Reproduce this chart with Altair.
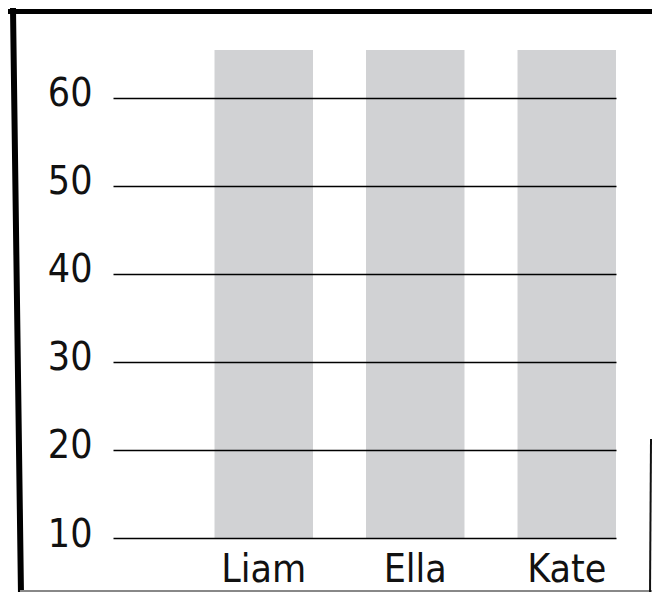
import altair as alt
import pandas as pd

# ---- data ----
names = ["Liam", "Ella", "Kate"]
values = [65.4, 65.4, 65.4]
y_ticks = [10, 20, 30, 40, 50, 60]
y_min = 10
y_max = 65.4

df = pd.DataFrame({"name": names, "value": values})

FONT = "'DejaVu Sans Condensed', 'Liberation Sans Narrow', sans-serif"
FS = 39

W, H = 503, 488

xscale = alt.Scale(domain=names, paddingInner=0.35, paddingOuter=0.335, align=1)
yscale = alt.Scale(domain=[y_min, y_max], nice=False, zero=False)

bars = alt.Chart(df).mark_bar(color="#d1d2d4").encode(
    x=alt.X("name:N", scale=xscale, sort=names,
            axis=alt.Axis(title=None, labelAngle=0, domain=False, ticks=False,
                          tickSize=0, labelPadding=12, labelFont=FONT,
                          labelFontSize=FS, labelColor="#111")),
    y=alt.Y("value:Q", scale=yscale,
            axis=alt.Axis(title=None, values=y_ticks, domain=False, ticks=False,
                          tickSize=0, labelPadding=21, labelFont=FONT,
                          labelFontSize=FS, labelColor="#111", grid=True,
                          gridColor="#000", gridWidth=1.6, gridOpacity=1,
                          labelOffset=-4, zindex=1)),
    y2=alt.datum(y_min),
)

one = alt.Data(values=[{}])

def seg(x1, y1, x2, y2, color, width):
    return alt.Chart(one).mark_rule(color=color, strokeWidth=width, strokeCap="square").encode(
        x=alt.value(x1), y=alt.value(y1), x2=alt.value(x2), y2=alt.value(y2))

frame = [
    seg(-103, -38.5, 545, -38.5, "#000", 5),
    seg(-100, -41, -92, 545, "#000", 6),
    seg(-92, 541, 540, 541, "#888", 2),
    seg(538, 390, 537, 545, "#111", 2),
]

chart = alt.layer(bars, *frame).properties(
    width=W, height=H,
    autosize=alt.AutoSizeParams(type="none"),
    padding={"left": 105, "top": 42, "right": 36, "bottom": 54},
    background="white",
).configure_view(stroke=None)

chart.save("out.html", embed_options={"renderer": "svg", "actions": False})
